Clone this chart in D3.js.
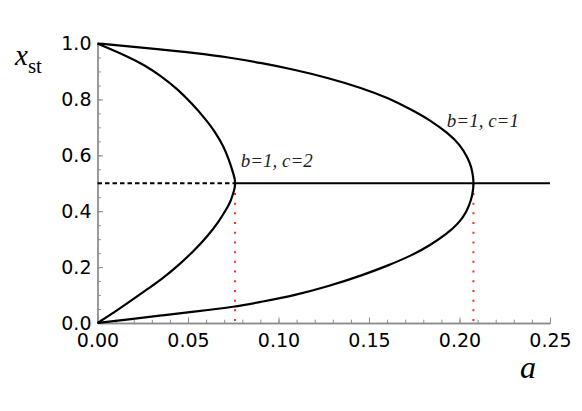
<!DOCTYPE html>
<html>
<head>
<meta charset="utf-8">
<script src="https://cdn.jsdelivr.net/npm/d3@7"></script>
<style>
  body { margin: 0; background: #fff; }
  svg { display: block; }
</style>
</head>
<body>
<div id="chart"></div>
<script>
// values: a (horizontal) against x_st (vertical)
// each curve runs from x_st = 1 through the bifurcation point down to x_st = 0
const c1A = [0, 0.0170, 0.0355, 0.0539, 0.0723, 0.0907, 0.1091, 0.1275, 0.1460, 0.1607, 0.1736, 0.1835, 0.1935, 0.2003, 0.2045, 0.2066, 0.2075,
             0.2078,
             0.2075, 0.2066, 0.2040, 0.1998, 0.1935, 0.1840, 0.1740, 0.1607, 0.1460, 0.1275, 0.1091, 0.0907, 0.0760, 0.0539, 0.0355, 0.0170, 0]
const c1X = [1, 0.990, 0.978, 0.966, 0.951, 0.930, 0.906, 0.877, 0.841, 0.805, 0.763, 0.727, 0.680, 0.638, 0.592, 0.557, 0.525,
             0.5,
             0.475, 0.443, 0.398, 0.359, 0.321, 0.279, 0.243, 0.206, 0.170, 0.131, 0.099, 0.076, 0.058, 0.041, 0.027, 0.013, 0]

const c2A = [0, 0.0170, 0.0262, 0.0355, 0.0447, 0.0520, 0.0594, 0.0649, 0.0697, 0.0727, 0.0748, 0.0758,
             0.0761,
             0.0758, 0.0749, 0.0734, 0.0714, 0.0668, 0.0612, 0.0539, 0.0447, 0.0355, 0.0262, 0.0170, 0.0097, 0]
const c2X = [1, 0.953, 0.922, 0.882, 0.834, 0.786, 0.732, 0.685, 0.631, 0.583, 0.540, 0.518,
             0.5,
             0.482, 0.462, 0.433, 0.409, 0.361, 0.314, 0.262, 0.206, 0.157, 0.115, 0.073, 0.040, 0]

const bifA = [0.0760, 0.2077]   // c=2, c=1
const midX = 0.5
const aMax = 0.25

const xMajor = [0, 0.05, 0.10, 0.15, 0.20, 0.25]
const yMajor = [0, 0.2, 0.4, 0.6, 0.8, 1.0]
const xMinor = d3.range(0, 0.2501, 0.01)
const yMinor = d3.range(0, 1.001, 0.05)

const labels = [
  {text: "b=1, c=2", a: 0.0791, x: 0.557},
  {text: "b=1, c=1", a: 0.1930, x: 0.702}
]

const width = 582, height = 411
const x = d3.scaleLinear().domain([0, aMax]).range([97.5, 550])
const y = d3.scaleLinear().domain([0, 1]).range([323, 43.5])

const svg = d3.select("#chart").append("svg")
  .attr("width", width)
  .attr("height", height)

const axisColor = "#8c8c8c"

function styleAxis(g) {
  g.select(".domain").attr("stroke", axisColor).attr("stroke-width", 1.3)
  g.selectAll(".tick line").attr("stroke", axisColor).attr("stroke-width", 1)
  g.selectAll(".tick text")
    .attr("fill", "#000")
    .attr("font-family", "'DejaVu Sans', sans-serif")
    .attr("font-size", 19)
}

// minor ticks first, then the main axes on top
svg.append("g")
  .attr("transform", `translate(0,${y(0)})`)
  .call(d3.axisBottom(x).tickValues(xMinor).tickSize(-3.3).tickFormat("").tickSizeOuter(0))
  .call(styleAxis)

svg.append("g")
  .attr("transform", `translate(${x(0)},0)`)
  .call(d3.axisLeft(y).tickValues(yMinor).tickSize(-3.3).tickFormat("").tickSizeOuter(0))
  .call(styleAxis)

svg.append("g")
  .attr("transform", `translate(0,${y(0)})`)
  .call(d3.axisBottom(x).tickValues(xMajor).tickSize(-5.5).tickPadding(11).tickFormat(d3.format(".2f")).tickSizeOuter(0))
  .call(styleAxis)

svg.append("g")
  .attr("transform", `translate(${x(0)},0)`)
  .call(d3.axisLeft(y).tickValues(yMajor).tickSize(-5.5).tickPadding(6).tickFormat(d3.format(".1f")).tickSizeOuter(0))
  .call(styleAxis)

// red dotted verticals from the bifurcation points
svg.append("g").selectAll("line")
  .data(bifA)
  .join("line")
  .attr("x1", d => x(d)).attr("x2", d => x(d))
  .attr("y1", y(midX)).attr("y2", y(0))
  .attr("stroke", "#ff2a1a")
  .attr("stroke-width", 2)
  .attr("stroke-dasharray", "2,7.7")

// x = 1/2 branch: dashed (unstable) then solid
svg.append("line")
  .attr("x1", x(0)).attr("x2", x(bifA[0]))
  .attr("y1", y(midX)).attr("y2", y(midX))
  .attr("stroke", "#000").attr("stroke-width", 2)
  .attr("stroke-dasharray", "4.5,3")

svg.append("line")
  .attr("x1", x(bifA[0])).attr("x2", x(aMax))
  .attr("y1", y(midX)).attr("y2", y(midX))
  .attr("stroke", "#000").attr("stroke-width", 2)

// basis spline evens out the small reading errors
const line = d3.line()
  .x(d => x(d[0]))
  .y(d => y(d[1]))
  .curve(d3.curveBasis)

function pts(as, xs) { return as.map((a, i) => [a, xs[i]]) }

const curves = [pts(c1A, c1X), pts(c2A, c2X)]

svg.append("g")
  .attr("fill", "none")
  .attr("stroke", "#000")
  .attr("stroke-width", 2.2)
  .attr("stroke-linejoin", "round")
  .selectAll("path")
  .data(curves)
  .join("path")
  .attr("d", line)

svg.append("g").selectAll("text")
  .data(labels)
  .join("text")
  .attr("x", d => x(d.a))
  .attr("y", d => y(d.x))
  .attr("font-family", "'Liberation Serif', 'Times New Roman', serif")
  .attr("font-style", "italic")
  .attr("font-size", 19)
  .attr("fill", "#222")
  .text(d => d.text)

// axis titles
const yTitle = svg.append("text")
  .attr("x", 15)
  .attr("y", 65)
  .attr("font-family", "'Liberation Serif', 'Times New Roman', serif")
  .attr("fill", "#000")
yTitle.append("tspan").attr("font-style", "italic").attr("font-size", 29).text("x")
yTitle.append("tspan").attr("font-size", 21).attr("dy", 8).text("st")

svg.append("text")
  .attr("x", 520)
  .attr("y", 378)
  .attr("font-family", "'Liberation Serif', 'Times New Roman', serif")
  .attr("font-style", "italic")
  .attr("font-size", 32)
  .attr("fill", "#000")
  .text("a")
</script>
</body>
</html>
